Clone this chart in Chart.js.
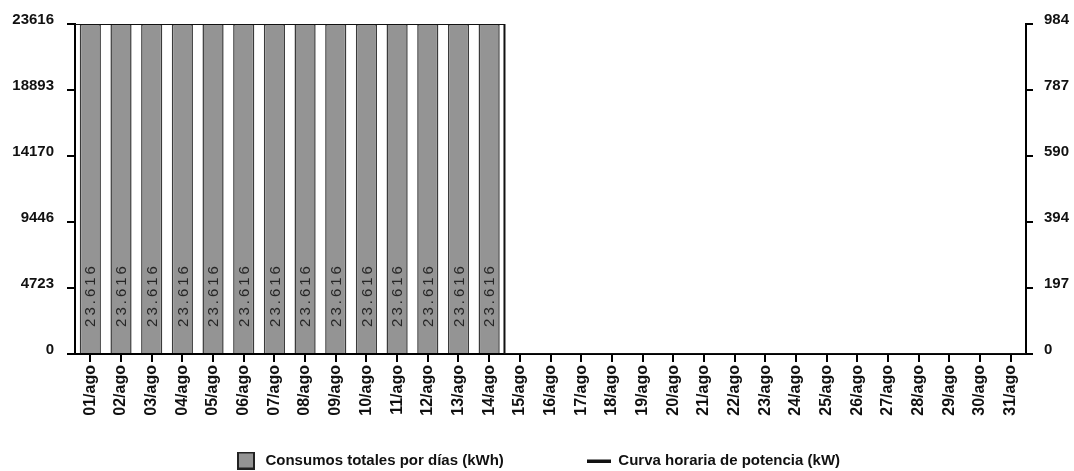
<!DOCTYPE html>
<html>
<head>
<meta charset="utf-8">
<script src="https://cdn.jsdelivr.net/npm/chart.js@4.4.1/dist/chart.umd.min.js"></script>
<style>
  html, body { margin: 0; padding: 0; background: #fff; }
  #wrap { width: 1074px; height: 471px; }
</style>
</head>
<body>
<div id="wrap"><canvas id="consumoChart" width="1074" height="471"></canvas></div>
<script>
// Datos del gráfico
const days = ['01/ago', '02/ago', '03/ago', '04/ago', '05/ago', '06/ago', '07/ago', '08/ago',
  '09/ago', '10/ago', '11/ago', '12/ago', '13/ago', '14/ago', '15/ago', '16/ago', '17/ago',
  '18/ago', '19/ago', '20/ago', '21/ago', '22/ago', '23/ago', '24/ago', '25/ago', '26/ago',
  '27/ago', '28/ago', '29/ago', '30/ago', '31/ago'];
const dailyKWh = [23616, 23616, 23616, 23616, 23616, 23616, 23616, 23616, 23616, 23616,
  23616, 23616, 23616, 23616, 0, 0, 0, 0, 0, 0, 0, 0, 0, 0, 0, 0, 0, 0, 0, 0, 0];
// curva de potencia (día del mes, kW)
const powerDay = [0, 14, 14, 31];
const powerKW = [984, 984, 0, 0];
const leftTicks = [0, 4723, 9446, 14170, 18893, 23616];
const rightTicks = [0, 197, 394, 590, 787, 984];
const seriesNames = ['Consumos totales por días (kWh)', 'Curva horaria de potencia (kW)'];

const barFill = '#949494';
const barBorder = '#3a3a3a';
const tickFont = { family: 'Liberation Sans', size: 15, weight: 'bold' };

// iconos de la leyenda
function legendIcon(w, h, draw) {
  const c = document.createElement('canvas');
  c.width = w; c.height = h;
  draw(c.getContext('2d'));
  return c;
}
const barIcon = legendIcon(18, 18, ctx => {
  ctx.fillStyle = barFill;
  ctx.fillRect(0, 0, 18, 18);
  ctx.strokeStyle = '#222';
  ctx.lineWidth = 2;
  ctx.strokeRect(1, 1, 16, 16);
});
const lineIcon = legendIcon(24, 4, ctx => {
  ctx.fillStyle = '#111';
  ctx.fillRect(0, 1, 24, 3);
});

// etiquetas verticales dentro de las barras
const barLabels = {
  id: 'barLabels',
  afterDatasetsDraw(chart) {
    const ctx = chart.ctx;
    const meta = chart.getDatasetMeta(0);
    ctx.save();
    ctx.font = '15px "Liberation Sans"';
    ctx.letterSpacing = '3px';
    ctx.fillStyle = '#262626';
    ctx.textAlign = 'center';
    ctx.textBaseline = 'middle';
    meta.data.forEach((bar, i) => {
      const v = dailyKWh[i];
      if (!v) return;
      ctx.save();
      ctx.translate(bar.x + 1, bar.base - 58);
      ctx.rotate(-Math.PI / 2);
      ctx.fillText(v.toLocaleString('es-ES', { useGrouping: 'always' }).replace(/\s/g, '.'), 0, 0);
      ctx.restore();
    });
    ctx.restore();
  }
};

const ctx = document.getElementById('consumoChart').getContext('2d');
const consumoChart = new Chart(ctx, {
  type: 'bar',
  data: {
    labels: days,
    datasets: [{
      label: seriesNames[0],
      data: dailyKWh,
      backgroundColor: barFill,
      borderColor: barBorder,
      borderWidth: 1.5,
      categoryPercentage: 1,
      barPercentage: 0.69,
      grouped: false,
      yAxisID: 'y',
      xAxisID: 'x',
      order: 2
    }, {
      type: 'line',
      label: seriesNames[1],
      data: powerDay.map((d, i) => ({ x: d, y: powerKW[i] })),
      borderColor: '#111',
      borderWidth: 2,
      pointRadius: 0,
      fill: false,
      xAxisID: 'xPow',
      yAxisID: 'y1',
      order: 1
    }]
  },
  options: {
    responsive: false,
    animation: false,
    layout: { padding: { top: 24, left: 0, right: 0, bottom: -7 } },
    plugins: {
      tooltip: { enabled: false },
      legend: {
        position: 'bottom',
        labels: {
          usePointStyle: true,
          pointStyleWidth: 24,
          padding: 33,
          color: '#111',
          font: { family: 'Liberation Sans', size: 15, weight: 'bold' },
          generateLabels(chart) {
            // espacio extra tras el primer texto para separar las dos entradas
            return chart.data.datasets.map((ds, i) => ({
              text: i === 0 ? ds.label + '\u00a0'.repeat(12) : ds.label,
              pointStyle: i === 0 ? barIcon : lineIcon,
              fillStyle: 'transparent',
              strokeStyle: 'transparent',
              lineWidth: 0,
              fontColor: '#111',
              hidden: false,
              datasetIndex: i
            }));
          }
        }
      }
    },
    scales: {
      x: {
        type: 'category',
        offset: true,
        grid: { display: true, drawOnChartArea: false, color: '#000', lineWidth: 2, tickLength: 8, offset: false },
        border: { display: true, color: '#000', width: 2 },
        ticks: {
          autoSkip: false, minRotation: 90, maxRotation: 90, padding: 3,
          color: '#111', font: { family: 'Liberation Sans', size: 16, weight: 'bold' }
        },
        afterFit(scale) { scale.height = 66; }
      },
      xPow: {
        type: 'linear',
        display: false,
        offset: false,
        min: 0,
        max: 31
      },
      y: {
        position: 'left',
        min: 0,
        max: 23616,
        grid: { drawOnChartArea: false, color: '#000', lineWidth: 2, tickLength: 8 },
        border: { display: true, color: '#000', width: 2 },
        ticks: { color: '#111', font: tickFont, padding: 13, labelOffset: -4, callback: v => String(v) },
        afterBuildTicks(scale) { scale.ticks = leftTicks.map(v => ({ value: v })); },
        afterFit(scale) { scale.width = 75; }
      },
      y1: {
        position: 'right',
        min: 0,
        max: 984,
        grid: { drawOnChartArea: false, color: '#000', lineWidth: 2, tickLength: 7 },
        border: { display: true, color: '#000', width: 2 },
        ticks: { color: '#111', font: tickFont, padding: 11, labelOffset: -4, callback: v => String(v) },
        afterBuildTicks(scale) { scale.ticks = rightTicks.map(v => ({ value: v })); },
        afterFit(scale) { scale.width = 48; }
      }
    }
  },
  plugins: [barLabels]
});
</script>
</body>
</html>
